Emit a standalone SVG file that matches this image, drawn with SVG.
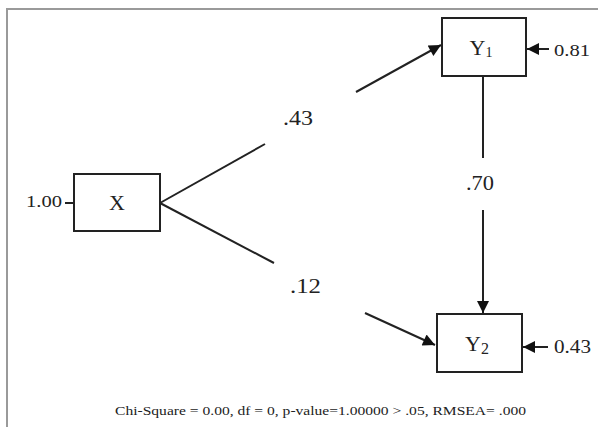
<svg xmlns="http://www.w3.org/2000/svg" width="598" height="427" viewBox="0 0 598 427">
<defs>
<style>
.box{fill:#fff;stroke:#222;stroke-width:2}
.ln{stroke:#222;stroke-width:2;fill:none}
.t{font-family:"Liberation Serif","Times New Roman",serif;fill:#222}
</style>
<marker id="ah" viewBox="0 0 10 10" refX="10" refY="5" markerWidth="14" markerHeight="12" markerUnits="userSpaceOnUse" orient="auto">
<path d="M0,0 L10,5 L0,10 z" fill="#111"/>
</marker>
</defs>
<rect width="598" height="427" fill="#fff"/>
<path d="M7,427 V9 H598" fill="none" stroke="#9a9a9a" stroke-width="2"/>
<g id="connectors">
<line class="ln" x1="160" y1="203" x2="265" y2="144"/>
<line class="ln" x1="356" y1="92" x2="441" y2="45" marker-end="url(#ah)"/>
<line class="ln" x1="160" y1="203" x2="274" y2="263"/>
<line class="ln" x1="365" y1="313" x2="435" y2="345" marker-end="url(#ah)"/>
<line class="ln" x1="483" y1="76" x2="483" y2="158"/>
<line class="ln" x1="483" y1="210" x2="483" y2="313" marker-end="url(#ah)"/>
<line class="ln" x1="549" y1="49" x2="527" y2="49" marker-end="url(#ah)"/>
<line class="ln" x1="548" y1="347" x2="523" y2="347" marker-end="url(#ah)"/>
<line class="ln" x1="65" y1="203" x2="74" y2="203"/>
<text class="t" x="283" y="125" font-size="20" textLength="30" lengthAdjust="spacingAndGlyphs">.43</text>
<text class="t" x="290" y="293" font-size="20" textLength="31" lengthAdjust="spacingAndGlyphs">.12</text>
<text class="t" x="466" y="190" font-size="20" textLength="28" lengthAdjust="spacingAndGlyphs">.70</text>
</g>
<g id="X">
<rect class="box" x="74" y="174" width="86" height="57"/>
<text class="t" x="117" y="210" font-size="22" text-anchor="middle">X</text>
<text class="t" x="26" y="207" font-size="16" textLength="36" lengthAdjust="spacingAndGlyphs">1.00</text>
</g>
<g id="Y1">
<rect class="box" x="442" y="18" width="84" height="58"/>
<text class="t" x="481" y="55" font-size="22" text-anchor="middle">Y<tspan font-size="14" dy="2">1</tspan></text>
<text class="t" x="554" y="56" font-size="16" textLength="36" lengthAdjust="spacingAndGlyphs">0.81</text>
</g>
<g id="Y2">
<rect class="box" x="437" y="314" width="85" height="58"/>
<text class="t" x="477" y="351" font-size="22" text-anchor="middle">Y<tspan font-size="16" dy="3">2</tspan></text>
<text class="t" x="554" y="353" font-size="18" textLength="37" lengthAdjust="spacingAndGlyphs">0.43</text>
</g>
<text class="t" x="115" y="415" font-size="13" textLength="411" lengthAdjust="spacingAndGlyphs">Chi-Square = 0.00, df = 0, p-value=1.00000 &gt; .05, RMSEA= .000</text>
</svg>
